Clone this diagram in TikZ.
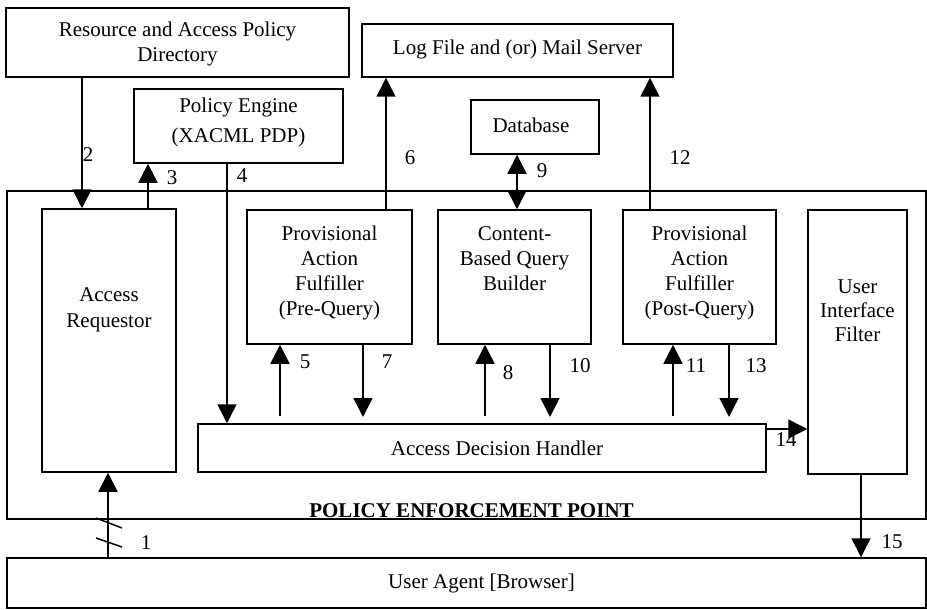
\documentclass[tikz,border=0pt]{standalone}
\usepackage{fontspec}
\setmainfont{Liberation Serif}
\usetikzlibrary{arrows.meta}
\begin{document}
\begin{tikzpicture}[x=1pt,y=-1pt,
  box/.style={draw, line width=1.5pt, inner sep=0pt},
  txt/.style={font=\fontsize{21}{25}\selectfont, align=center, anchor=base, inner sep=0pt},
  num/.style={font=\fontsize{21}{25}\selectfont, inner sep=0pt},
  tip/.tip={Triangle[length=19pt,width=19pt]},
  arr/.style={line width=1.5pt, -tip},
  darr/.style={line width=1.5pt, tip-tip},
  ln/.style={line width=1.5pt}]
\useasboundingbox (0,0) rectangle (927,610);
% boxes
\node[box, minimum width=343, minimum height=69] (res) at (177.5,42.5) {};
\node[box, minimum width=209, minimum height=74] (pe) at (238.5,126) {};
\node[box, minimum width=311, minimum height=53] (log) at (517.5,50.5) {};
\node[box, minimum width=128, minimum height=54] (db) at (535,127) {};
\node[box, minimum width=919, minimum height=328] (pep) at (466.5,355) {};
\node[box, minimum width=134, minimum height=263] (ar) at (109,340.5) {};
\node[box, minimum width=165, minimum height=134] (pre) at (329.5,277) {};
\node[box, minimum width=153, minimum height=134] (cb) at (514.5,277) {};
\node[box, minimum width=153, minimum height=134] (post) at (699.5,277) {};
\node[box, minimum width=99, minimum height=264] (uif) at (857.5,342) {};
\node[box, minimum width=568, minimum height=48] (adh) at (482,448) {};
\node[box, minimum width=919, minimum height=50] (ua) at (466.5,583) {};
% texts (anchor = baseline of last line)
\node[txt] (tres) at (177.5,62) {Resource and Access Policy\\Directory};
\node[txt] (tpe) at (238.5,142) {Policy Engine\\[4pt](XACML PDP)};
\node[txt] (tlog) at (517.5,55) {Log File and (or) Mail Server};
\node[txt] (tdb) at (531,132) {Database};
\node[txt] (tar) at (109,327) {Access\\[1pt]Requestor};
\node[txt] (tpre) at (329.5,315) {Provisional\\Action\\Fulfiller\\(Pre-Query)};
\node[txt] (tcb) at (514.5,290) {Content-\\Based Query\\Builder};
\node[txt] (tpost) at (699.5,315) {Provisional\\Action\\Fulfiller\\(Post-Query)};
\node[txt] (tuif) at (857.5,341) {User\\[-1pt]Interface\\[-1pt]Filter};
\node[txt] (tadh) at (497,455) {Access Decision Handler};
\node[txt] (tua) at (481.5,588) {User Agent [Browser]};
\node[txt, font=\fontsize{21}{25}\selectfont\bfseries] (tpep) at (471.5,517) {POLICY ENFORCEMENT POINT};
% coordinates for free ends
\coordinate (b5) at (280,416);
\coordinate (e7) at (363,417);
\coordinate (b8) at (485,416);
\coordinate (e10) at (550,417);
\coordinate (b11) at (673,416);
\coordinate (e13) at (729,417);
% connectors
\draw[arr] (res.south -| 82,0) -- (ar.north -| 82,0);
\draw[arr] (ar.north -| 148,0) -- (pe.south -| 148,0);
\draw[arr] (pe.south -| 227,0) -- (adh.north -| 227,0);
\draw[arr] (pre.north -| 386,0) -- (log.south -| 386,0);
\draw[arr] (post.north -| 650,0) -- (log.south -| 650,0);
\draw[darr] (db.south -| 517,0) -- (cb.north -| 517,0);
\draw[arr] (b5) -- (b5 |- pre.south);
\draw[arr] (pre.south -| e7) -- (e7);
\draw[arr] (b8) -- (b8 |- cb.south);
\draw[arr] (cb.south -| e10) -- (e10);
\draw[arr] (b11) -- (b11 |- post.south);
\draw[arr] (post.south -| e13) -- (e13);
\draw[arr] (adh.east |- 0,429) -- (uif.west |- 0,429);
\draw[arr] (uif.south -| 861,0) -- (ua.north -| 861,0);
\draw[arr] (ua.north -| 108,0) -- (ar.south -| 108,0);
\draw[ln] (96,518) -- (122,528);
\draw[ln] (96,538) -- (122,547);
% numbers
\node[num] (n1) at (146,543) {1};
\node[num] (n2) at (88,155) {2};
\node[num] (n3) at (172,178) {3};
\node[num] (n4) at (242,176) {4};
\node[num] (n5) at (305,362) {5};
\node[num] (n6) at (410,158) {6};
\node[num] (n7) at (387,362) {7};
\node[num] (n8) at (508,373) {8};
\node[num] (n9) at (542,171) {9};
\node[num] (n10) at (580,366) {10};
\node[num] (n11) at (696,366) {11};
\node[num] (n12) at (680,158) {12};
\node[num] (n13) at (756,366) {13};
\node[num] (n14) at (786,440) {14};
\node[num] (n15) at (892,542) {15};
\end{tikzpicture}
\end{document}
